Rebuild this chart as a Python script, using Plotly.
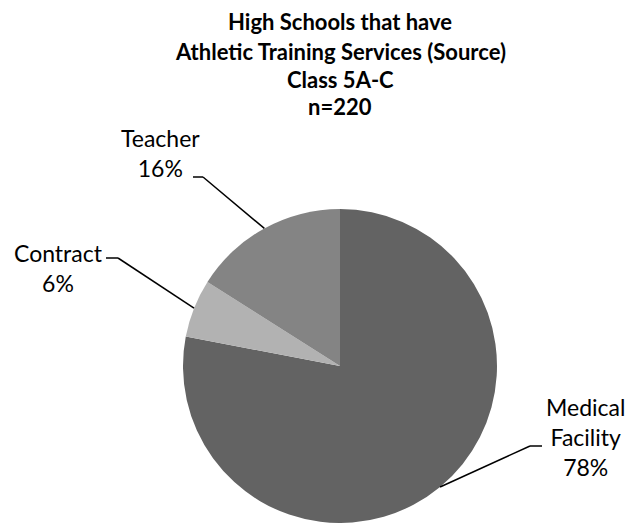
import math
import plotly.graph_objects as go

# ---- data ----
categories = ["Medical Facility", "Contract", "Teacher"]
display_names = ["Medical<br>Facility", "Contract", "Teacher"]
values = [78, 6, 16]
colors = ["#636363", "#b2b2b2", "#848484"]
title_lines = ["High Schools that have", "Athletic Training Services (Source)", "Class 5A-C", "n=220"]

# ---- layout constants (pixels) ----
W, H = 639, 523
cx, cy, r = 340, 366, 157
FONT = "Lato, Open Sans, sans-serif"
title_y = [22, 51, 80, 107]

# label placement: text centre, elbow point, end of horizontal tick
label_pos = {
    "Medical Facility": dict(tx=585, ty=437, ex=542, ey=446, hx=530),
    "Contract": dict(tx=58, ty=268, ex=106, ey=258, hx=118),
    "Teacher": dict(tx=161, ty=153, ex=193, ey=177, hx=203),
}


def px(x):
    return x / W


def py(y):
    return 1 - y / H


fig = go.Figure(
    go.Pie(
        labels=categories,
        values=values,
        sort=False,
        direction="clockwise",
        rotation=0,
        marker=dict(colors=colors, line=dict(width=0)),
        textinfo="none",
        textposition="none",
        hoverinfo="label+percent",
        showlegend=False,
        domain=dict(x=[px(cx - r), px(cx + r)], y=[max(0, py(cy + r)), py(cy - r)]),
    )
)

total = sum(values)
cum = 0
shapes = []
annotations = []
for name, disp, v in zip(categories, display_names, values):
    mid = (cum + v / 2) / total
    cum += v
    ang = 2 * math.pi * mid  # clockwise from 12 o'clock
    edge_x = cx + r * math.sin(ang)
    edge_y = cy - r * math.cos(ang)
    p = label_pos[name]
    line_style = dict(color="black", width=1.5)
    shapes.append(dict(type="line", xref="paper", yref="paper",
                       x0=px(edge_x), y0=py(edge_y), x1=px(p["hx"]), y1=py(p["ey"]),
                       line=line_style))
    shapes.append(dict(type="line", xref="paper", yref="paper",
                       x0=px(p["hx"]), y0=py(p["ey"]), x1=px(p["ex"]), y1=py(p["ey"]),
                       line=line_style))
    pct = f"{round(v / total * 100)}%"
    annotations.append(dict(xref="paper", yref="paper", x=px(p["tx"]), y=py(p["ty"]),
                            xanchor="center", yanchor="middle", showarrow=False,
                            text=f"{disp}<br>{pct}", align="center",
                            font=dict(family=FONT, size=23, color="black")))

for line, ty in zip(title_lines, title_y):
    annotations.append(dict(xref="paper", yref="paper", x=px(cx), y=py(ty),
                            xanchor="center", yanchor="middle", showarrow=False,
                            text=f"<b>{line}</b>",
                            font=dict(family=FONT, size=22, color="black")))

fig.update_layout(
    width=W,
    height=H,
    margin=dict(l=0, r=0, t=0, b=0),
    paper_bgcolor="white",
    plot_bgcolor="white",
    shapes=shapes,
    annotations=annotations,
)

fig.write_html("out.html", config={"displayModeBar": False},
               post_script="document.body.style.margin='0px';")
